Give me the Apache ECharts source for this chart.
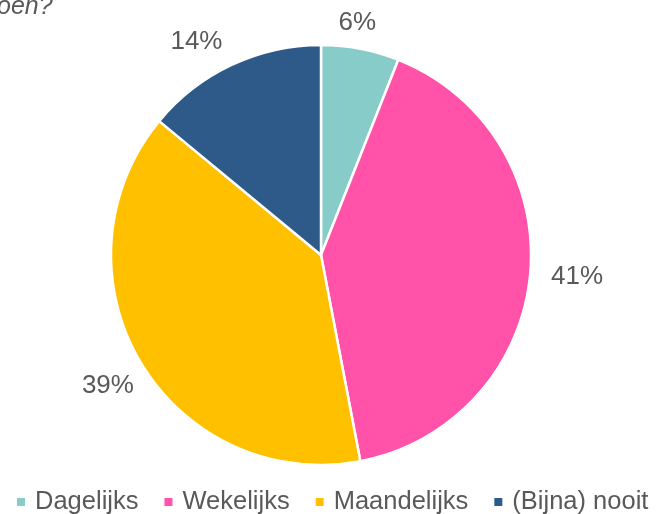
<!DOCTYPE html>
<html>
<head>
<meta charset="utf-8">
<script src="https://cdn.jsdelivr.net/npm/echarts@6/dist/echarts.min.js"></script>
<style>
html, body { margin: 0; padding: 0; background: #fff; }
#main { width: 663px; height: 514px; }
</style>
</head>
<body>
<div id="main"></div>
<script>
var myChart = echarts.init(document.getElementById('main'));

let categories = ['Dagelijks', 'Wekelijks', 'Maandelijks', '(Bijna) nooit'];
let values = [6, 41, 39, 14];
let colors = ['#88CCC9', '#FF52A8', '#FFC000', '#2E5A8A'];

// nudge the outside labels to where the original put them
let labelShift = [[-33, -14], [0, 1], [13, 18], [5, -12]];

let option = {
    backgroundColor: '#fff',
    title: {
        text: 'oen?',
        left: -3,
        top: -5,
        padding: 0,
        textStyle: {
            fontFamily: 'Liberation Sans',
            fontStyle: 'italic',
            fontWeight: 'normal',
            fontSize: 25,
            color: '#595959'
        }
    },
    legend: {
        top: 489,
        left: 15,
        width: 660,
        padding: 0,
        itemWidth: 10,
        itemHeight: 10,
        itemGap: 24,
        icon: 'rect',
        data: categories,
        textStyle: {
            fontFamily: 'Liberation Sans',
            fontSize: 25.5,
            color: '#595959',
            padding: [0, 0, 0, 4]
        }
    },
    series: [{
        type: 'pie',
        center: [321, 255],
        radius: 210,
        startAngle: 90,
        clockwise: true,
        animation: false,
        itemStyle: {
            borderColor: '#fff',
            borderWidth: 2.5
        },
        label: {
            show: true,
            position: 'outside',
            formatter: '{c}%',
            fontFamily: 'Liberation Sans',
            fontSize: 26,
            color: '#595959'
        },
        labelLine: {
            show: false,
            length: 12,
            length2: 4
        },
        labelLayout: function (p) {
            let s = labelShift[p.dataIndex];
            return { dx: s[0], dy: s[1] };
        },
        data: categories.map(function (c, i) {
            return { name: c, value: values[i], itemStyle: { color: colors[i] } };
        })
    }]
};

myChart.setOption(option);
</script>
</body>
</html>
